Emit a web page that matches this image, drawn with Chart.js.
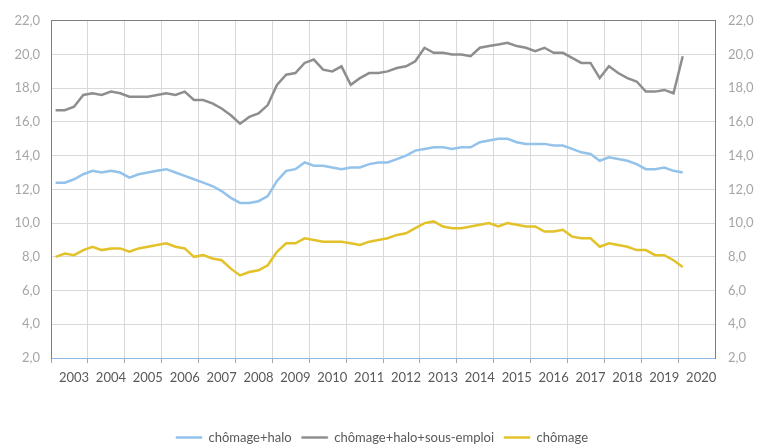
<!DOCTYPE html>
<html lang="fr">
<head>
<meta charset="utf-8">
<title>Chômage, halo et sous-emploi</title>
<script src="https://cdn.jsdelivr.net/npm/chart.js@4/dist/chart.umd.min.js"></script>
<style>
	html, body { margin: 0; padding: 0; background: #ffffff; }
	#chart { display: block; }
</style>
</head>
<body>
<canvas id="chart" width="764" height="445"></canvas>
<script>
// années affichées sous l'axe, une case par année, 4 trimestres par case
const years = [2003, 2004, 2005, 2006, 2007, 2008, 2009, 2010, 2011, 2012, 2013, 2014, 2015, 2016, 2017, 2018, 2019, 2020];

// séries trimestrielles (en %)
const chomageHalo = [
	12.4, 12.4, 12.6, 12.9, 13.1, 13.0, 13.1, 13.0, 12.7, 12.9, 13.0, 13.1, 13.2, 13.0, 12.8, 12.6, 12.4, 12.2,
	11.9, 11.5, 11.2, 11.2, 11.3, 11.6, 12.5, 13.1, 13.2, 13.6, 13.4, 13.4, 13.3, 13.2, 13.3, 13.3, 13.5, 13.6,
	13.6, 13.8, 14.0, 14.3, 14.4, 14.5, 14.5, 14.4, 14.5, 14.5, 14.8, 14.9, 15.0, 15.0, 14.8, 14.7, 14.7, 14.7,
	14.6, 14.6, 14.4, 14.2, 14.1, 13.7, 13.9, 13.8, 13.7, 13.5, 13.2, 13.2, 13.3, 13.1, 13.0
];
const chomageHaloSousEmploi = [
	16.7, 16.7, 16.9, 17.6, 17.7, 17.6, 17.8, 17.7, 17.5, 17.5, 17.5, 17.6, 17.7, 17.6, 17.8, 17.3, 17.3, 17.1,
	16.8, 16.4, 15.9, 16.3, 16.5, 17.0, 18.2, 18.8, 18.9, 19.5, 19.7, 19.1, 19.0, 19.3, 18.2, 18.6, 18.9, 18.9,
	19.0, 19.2, 19.3, 19.6, 20.4, 20.1, 20.1, 20.0, 20.0, 19.9, 20.4, 20.5, 20.6, 20.7, 20.5, 20.4, 20.2, 20.4,
	20.1, 20.1, 19.8, 19.5, 19.5, 18.6, 19.3, 18.9, 18.6, 18.4, 17.8, 17.8, 17.9, 17.7, 19.9
];
const chomage = [
	8.0, 8.2, 8.1, 8.4, 8.6, 8.4, 8.5, 8.5, 8.3, 8.5, 8.6, 8.7, 8.8, 8.6, 8.5, 8.0, 8.1, 7.9,
	7.8, 7.3, 6.9, 7.1, 7.2, 7.5, 8.3, 8.8, 8.8, 9.1, 9.0, 8.9, 8.9, 8.9, 8.8, 8.7, 8.9, 9.0,
	9.1, 9.3, 9.4, 9.7, 10.0, 10.1, 9.8, 9.7, 9.7, 9.8, 9.9, 10.0, 9.8, 10.0, 9.9, 9.8, 9.8, 9.5,
	9.5, 9.6, 9.2, 9.1, 9.1, 8.6, 8.8, 8.7, 8.6, 8.4, 8.4, 8.1, 8.1, 7.8, 7.4
];

const quarters = [];
years.forEach(y => {
	for (let q = 1; q <= 4; q++) quarters.push(y + 'T' + q);
});

const fmt = v => Number(v).toFixed(1).replace('.', ',');
const yearLine = (ctx, color) => (ctx.index % 4 === 0 ? color : 'rgba(0,0,0,0)');

// le cadre de la légende est un peu plus bas que ce que Chart.js fait d'office
const legendShift = {
	id: 'legendShift',
	beforeLayout(chart) {
		const lg = chart.legend;
		if (lg && !lg._shifted) {
			const fit = lg.fit.bind(lg);
			lg.fit = function () {
				fit();
				this.height -= 9;
			};
			lg._shifted = true;
		}
	}
};

new Chart(document.getElementById('chart'), {
	type: 'line',
	data: {
		labels: quarters,
		datasets: [
			{
				label: 'chômage+halo',
				data: chomageHalo,
				borderColor: '#93c2ea',
				backgroundColor: '#93c2ea'
			},
			{
				label: 'chômage+halo+sous-emploi',
				data: chomageHaloSousEmploi,
				borderColor: '#8e8e8e',
				backgroundColor: '#8e8e8e'
			},
			{
				label: 'chômage',
				data: chomage,
				borderColor: '#e3c229',
				backgroundColor: '#e3c229'
			}
		]
	},
	options: {
		responsive: false,
		animation: false,
		elements: {
			point: { radius: 0 },
			line: { borderWidth: 2.5, tension: 0 }
		},
		layout: { padding: { top: 19, left: 0, right: 0, bottom: 0 } },
		plugins: {
			tooltip: { enabled: false },
			legend: {
				position: 'bottom',
				labels: {
					boxWidth: 26,
					boxHeight: 2,
					padding: 10,
					color: '#595959',
					font: { family: 'Lato', size: 13 },
					generateLabels: chart => Chart.defaults.plugins.legend.labels.generateLabels(chart)
						.map(item => Object.assign(item, { lineWidth: 0.5 }))
				}
			}
		},
		scales: {
			x: {
				type: 'category',
				offset: true,
				grid: {
					offset: true,
					color: ctx => yearLine(ctx, '#d9d9d9'),
					tickColor: ctx => yearLine(ctx, '#a6a6a6'),
					tickLength: 5
				},
				border: { color: '#8db9e3', width: 1 },
				ticks: {
					autoSkip: false,
					maxRotation: 0,
					minRotation: 0,
					padding: 7,
					color: '#595959',
					font: { family: 'Lato', size: 13 },
					callback: function (value, index) {
						return index % 4 === 2 ? String(years[Math.floor(index / 4)]) : '';
					}
				},
				afterFit: scale => { scale.height = 63; }
			},
			y: {
				position: 'left',
				min: 2,
				max: 22,
				ticks: {
					stepSize: 2,
					padding: 11,
					color: '#a6a6a6',
					font: { family: 'Lato', size: 13 },
					callback: fmt
				},
				grid: {
					drawTicks: false,
					color: ctx => (ctx.tick && ctx.tick.value === 22 ? '#7f7f7f' : '#d9d9d9')
				},
				border: { color: '#7f7f7f', width: 1 },
				afterFit: scale => { scale.width = 51; }
			},
			y2: {
				position: 'right',
				display: true,
				min: 2,
				max: 22,
				ticks: {
					stepSize: 2,
					padding: 13,
					color: '#a6a6a6',
					font: { family: 'Lato', size: 13 },
					callback: fmt
				},
				grid: { display: false, drawTicks: false },
				border: { display: true, color: '#7f7f7f', width: 1 },
				afterFit: scale => { scale.width = 49; }
			}
		}
	},
	plugins: [legendShift]
});
</script>
</body>
</html>
